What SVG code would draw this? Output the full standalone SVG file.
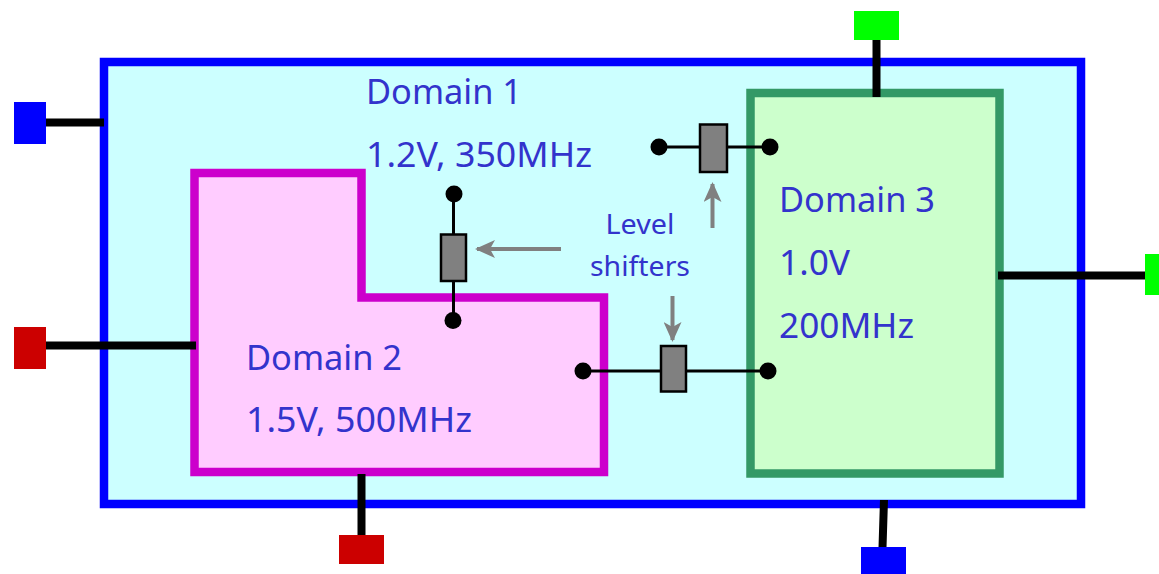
<svg xmlns="http://www.w3.org/2000/svg" width="1159" height="574" viewBox="0 0 1159 574">
<defs>
<style>
.lbl{font-family:"Noto Sans","Open Sans","Liberation Sans",sans-serif;fill:#3333CC;font-size:34px}
.sm{font-size:28px}
.wire{stroke:#000;stroke-width:8;fill:none}
.thin{stroke:#000;stroke-width:3;fill:none}
.ls{fill:#808080;stroke:#000;stroke-width:2.5}
.dot{fill:#000}
.ptr{stroke:#808080;stroke-width:4;fill:none}
</style>
<marker id="ah" viewBox="0 0 20 18" refX="18" refY="9" markerWidth="20" markerHeight="18" markerUnits="userSpaceOnUse" orient="auto">
<path d="M0,0 L20,9 L0,18 L5,9 Z" fill="#808080"/>
</marker>
</defs>
<rect width="1159" height="574" fill="#fff"/>
<g id="domain1">
<rect x="104" y="62" width="977" height="442" fill="#CCFFFF" stroke="#0000FF" stroke-width="8.5"/>
<text class="lbl" x="366" y="104" textLength="156" lengthAdjust="spacingAndGlyphs">Domain 1</text>
<text class="lbl" x="366" y="167" textLength="226" lengthAdjust="spacingAndGlyphs">1.2V, 350MHz</text>
</g>
<g id="domain2">
<path d="M194.5,173 H361.5 V297.5 H604 V472 H194.5 Z" fill="#FFCCFF" stroke="#CC00CC" stroke-width="8.5"/>
<text class="lbl" x="246" y="370" textLength="156" lengthAdjust="spacingAndGlyphs">Domain 2</text>
<text class="lbl" x="246" y="432" textLength="226" lengthAdjust="spacingAndGlyphs">1.5V, 500MHz</text>
</g>
<g id="domain3">
<rect x="750.5" y="93" width="249" height="380.5" fill="#CCFFCC" stroke="#339966" stroke-width="8.5"/>
<text class="lbl" x="779" y="212" textLength="156" lengthAdjust="spacingAndGlyphs">Domain 3</text>
<text class="lbl" x="779" y="275" textLength="71" lengthAdjust="spacingAndGlyphs">1.0V</text>
<text class="lbl" x="779" y="338" textLength="135" lengthAdjust="spacingAndGlyphs">200MHz</text>
</g>
<g id="connectors">
<line class="wire" x1="46" y1="122.5" x2="104" y2="122.5"/>
<line class="wire" x1="46" y1="345.5" x2="196" y2="345.5"/>
<line class="wire" x1="361.5" y1="474" x2="361.5" y2="536"/>
<line class="wire" x1="876.5" y1="39" x2="876.5" y2="97"/>
<line class="wire" x1="998" y1="275.5" x2="1146" y2="275.5"/>
<line class="wire" x1="884" y1="500" x2="882.5" y2="548"/>
<line class="thin" x1="659" y1="147" x2="770" y2="147"/>
<line class="thin" x1="453.5" y1="194" x2="453.5" y2="321"/>
<line class="thin" x1="583" y1="371" x2="768" y2="371"/>
<line class="ptr" x1="712.5" y1="228" x2="712.5" y2="184" marker-end="url(#ah)"/>
<line class="ptr" x1="561" y1="249" x2="477" y2="249" marker-end="url(#ah)"/>
<line class="ptr" x1="672.5" y1="296" x2="672.5" y2="340" marker-end="url(#ah)"/>
</g>
<g id="port-blue-left"><rect x="14" y="102" width="32" height="42" fill="#0000FF"/></g>
<g id="port-red-left"><rect x="14" y="327" width="32" height="42" fill="#CC0000"/></g>
<g id="port-red-bottom"><rect x="339" y="535" width="45" height="29" fill="#CC0000"/></g>
<g id="port-green-top"><rect x="854" y="11" width="45" height="29" fill="#00FF00"/></g>
<g id="port-green-right"><rect x="1145" y="254" width="16" height="41" fill="#00FF00"/></g>
<g id="port-blue-bottom"><rect x="861" y="547" width="45" height="30" fill="#0000FF"/></g>
<g id="ls1">
<rect class="ls" x="700" y="124.5" width="27" height="47.5"/>
<circle class="dot" cx="659" cy="147" r="8.5"/>
<circle class="dot" cx="770" cy="147" r="8.5"/>
</g>
<g id="ls2">
<rect class="ls" x="441" y="234.5" width="25" height="46.5"/>
<circle class="dot" cx="454" cy="194" r="8.5"/>
<circle class="dot" cx="453" cy="320.5" r="8.5"/>
</g>
<g id="ls3">
<rect class="ls" x="661" y="346" width="25" height="45.5"/>
<circle class="dot" cx="583" cy="371" r="8.5"/>
<circle class="dot" cx="768" cy="371" r="8.5"/>
</g>
<g id="label-level-shifters">
<text class="lbl sm" x="640" y="234" text-anchor="middle" textLength="69" lengthAdjust="spacingAndGlyphs">Level</text>
<text class="lbl sm" x="640" y="276" text-anchor="middle" textLength="100" lengthAdjust="spacingAndGlyphs">shifters</text>
</g>
</svg>
